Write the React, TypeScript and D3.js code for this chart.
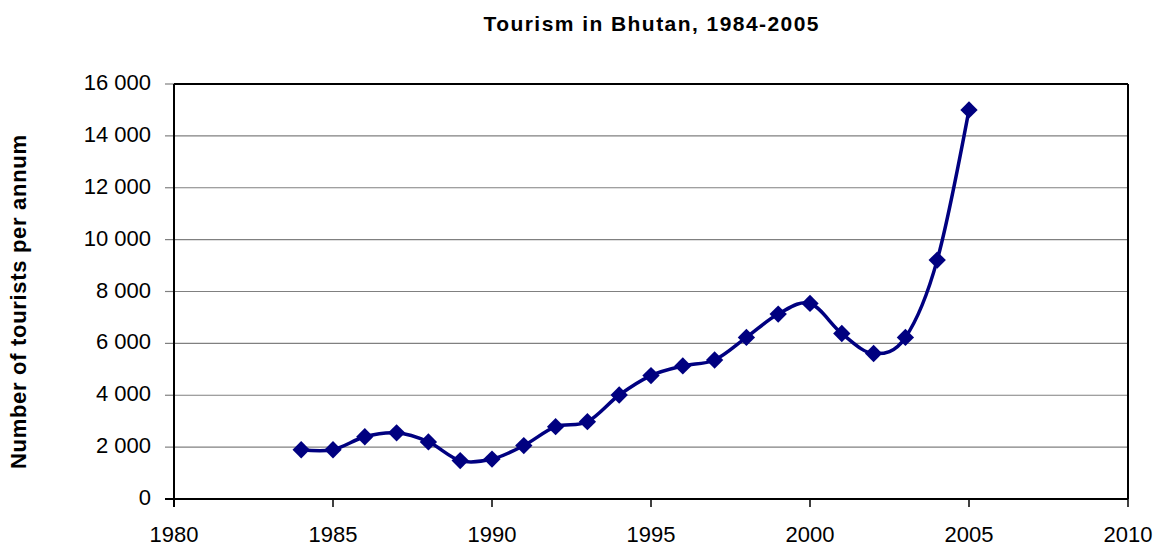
import React from 'react'
import * as d3 from 'd3'

const width = 1157
const height = 546
const margin = { top: 84, right: 29, bottom: 47, left: 174 }

const years = [1984, 1985, 1986, 1987, 1988, 1989, 1990, 1991, 1992, 1993, 1994, 1995, 1996, 1997, 1998, 1999, 2000, 2001, 2002, 2003, 2004, 2005]
const tourists = [1900, 1900, 2400, 2550, 2200, 1480, 1540, 2060, 2790, 2980, 4010, 4760, 5130, 5360, 6230, 7130, 7540, 6380, 5610, 6230, 9210, 15000]
const xTicks = [1980, 1985, 1990, 1995, 2000, 2005, 2010]
const yTicks = [0, 2000, 4000, 6000, 8000, 10000, 12000, 14000, 16000]

const title = 'Tourism in Bhutan, 1984-2005'
const yTitle = 'Number of tourists per annum'
const navy = '#000080'

const fmt = (v: number) => d3.format(',')(v).replace(/,/g, ' ')

export default function App() {
    const x = d3.scaleLinear().domain([1980, 2010]).range([margin.left, width - margin.right])
    const y = d3.scaleLinear().domain([0, 16000]).range([height - margin.bottom, margin.top])

    const points = years.map((yr, i) => [x(yr), y(tourists[i])] as [number, number])
    const line = d3.line().curve(d3.curveCatmullRom.alpha(0))(points) || ''
    const diamond = d3.symbol(d3.symbolSquare, 150)() || ''

    const x0 = x.range()[0]
    const x1 = x.range()[1]
    const y0 = y.range()[0]
    const y1 = y.range()[1]

    return (
        <svg width={width} height={height} style={{ position: 'absolute', left: 0, top: 0, background: '#fff' }}
            fontFamily="'Liberation Sans', Arial, sans-serif">
            <text x={(x0 + x1) / 2} y={31} textAnchor="middle" fontWeight="bold" fontSize={21}
                textLength={335} lengthAdjust="spacing">{title}</text>
            <text transform={`translate(26, 302) rotate(-90)`} textAnchor="middle" fontWeight="bold" fontSize={22}
                textLength={334} lengthAdjust="spacing">{yTitle}</text>

            {/* gridlines */}
            {yTicks.map(t => (
                <g key={t}>
                    {t > 0 && t < 16000 && (
                        <line x1={x0} x2={x1} y1={y(t)} y2={y(t)} stroke="#808080" strokeWidth={1.2} />
                    )}
                    <line x1={x0 - 9} x2={x0} y1={y(t)} y2={y(t)} stroke="#808080" strokeWidth={1.2} />
                    <text x={151} y={y(t) + 6} textAnchor="end" fontSize={22}>{fmt(t)}</text>
                </g>
            ))}

            {/* frame */}
            <line x1={x0} x2={x1} y1={y1} y2={y1} stroke="#000" strokeWidth={2} />
            <line x1={x1} x2={x1} y1={y1} y2={y0} stroke="#000" strokeWidth={2} />
            <line x1={x0} x2={x0} y1={y1} y2={y0 + 8} stroke="#000" strokeWidth={2} />
            <line x1={x0 - 9} x2={x1} y1={y0} y2={y0} stroke="#000" strokeWidth={2} />

            {xTicks.map(t => (
                <g key={t}>
                    <line x1={x(t)} x2={x(t)} y1={y0} y2={y0 + 8} stroke="#000" strokeWidth={1.5} />
                    <text x={x(t)} y={542} textAnchor="middle" fontSize={22}>{t}</text>
                </g>
            ))}

            <path d={line} fill="none" stroke={navy} strokeWidth={3.5} />
            {points.map((p, i) => (
                <path key={years[i]} d={diamond} transform={`translate(${p[0]},${p[1]}) rotate(45)`} fill={navy} />
            ))}
        </svg>
    )
}
